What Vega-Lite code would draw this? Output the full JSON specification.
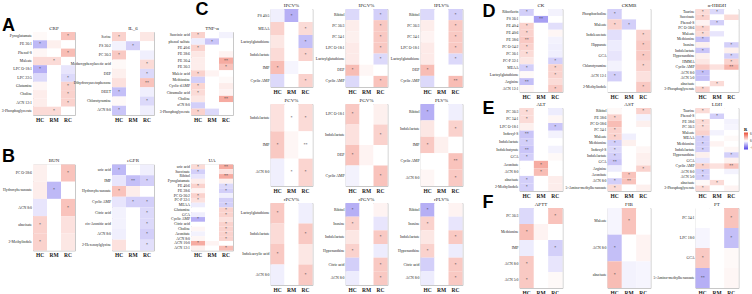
{
"$schema": "https://vega.github.io/schema/vega-lite/v6.json",
"autosize": {"type": "none"},
"padding": {"left": 33, "top": 9, "right": 719, "bottom": 285},
"background": "white",
"config": {
  "font": "Liberation Serif",
  "view": {"stroke": "#c8c8c8", "strokeWidth": 1},
  "axisX": {"labelAngle": 0, "labelFontSize": 5.5, "labelFontWeight": "bold", "ticks": false, "domain": false, "labelPadding": 2, "labelColor": "#222222", "grid": false},
  "axisY": {"labelFontSize": 3.8, "ticks": false, "domain": false, "labelPadding": 1.5, "labelColor": "#222222", "grid": false},
  "title": {"fontSize": 5, "fontWeight": "normal", "offset": 1.5, "color": "#222222"},
  "legend": {"orient": "none", "legendX": 711, "legendY": 118, "gradientLength": 17, "gradientThickness": 4, "labelFontSize": 3, "titleFontSize": 4.5, "labelOffset": 1, "titlePadding": 1, "padding": 0}
},
"data": {"values": [
{"p":"CRP","m":"Pyroglutamate","g":"HC","v":0.02,"s":""},{"p":"CRP","m":"Pyroglutamate","g":"RM","v":0,"s":""},{"p":"CRP","m":"Pyroglutamate","g":"RC","v":0.2,"s":"*"},
{"p":"CRP","m":"PE 36:1","g":"HC","v":-0.22,"s":"*"},{"p":"CRP","m":"PE 36:1","g":"RM","v":0.05,"s":""},{"p":"CRP","m":"PE 36:1","g":"RC","v":0,"s":""},
{"p":"CRP","m":"Phenol-S","g":"HC","v":0.03,"s":""},{"p":"CRP","m":"Phenol-S","g":"RM","v":0,"s":""},{"p":"CRP","m":"Phenol-S","g":"RC","v":0.22,"s":"*"},
{"p":"CRP","m":"Maleate","g":"HC","v":0.12,"s":""},{"p":"CRP","m":"Maleate","g":"RM","v":0.12,"s":"*"},{"p":"CRP","m":"Maleate","g":"RC","v":0,"s":""},
{"p":"CRP","m":"LPC O-18:1","g":"HC","v":-0.25,"s":"*"},{"p":"CRP","m":"LPC O-18:1","g":"RM","v":0,"s":""},{"p":"CRP","m":"LPC O-18:1","g":"RC","v":-0.08,"s":""},
{"p":"CRP","m":"LPC 22:5","g":"HC","v":-0.12,"s":""},{"p":"CRP","m":"LPC 22:5","g":"RM","v":0,"s":""},{"p":"CRP","m":"LPC 22:5","g":"RC","v":-0.12,"s":"*"},
{"p":"CRP","m":"Glutamine","g":"HC","v":0.03,"s":""},{"p":"CRP","m":"Glutamine","g":"RM","v":0,"s":""},{"p":"CRP","m":"Glutamine","g":"RC","v":0.15,"s":"*"},
{"p":"CRP","m":"Choline","g":"HC","v":0.06,"s":""},{"p":"CRP","m":"Choline","g":"RM","v":0,"s":""},{"p":"CRP","m":"Choline","g":"RC","v":0.15,"s":"*"},
{"p":"CRP","m":"ACN 12:1","g":"HC","v":0.06,"s":""},{"p":"CRP","m":"ACN 12:1","g":"RM","v":0,"s":""},{"p":"CRP","m":"ACN 12:1","g":"RC","v":0.15,"s":"*"},
{"p":"CRP","m":"3-Phosphoglycerate","g":"HC","v":0.12,"s":""},{"p":"CRP","m":"3-Phosphoglycerate","g":"RM","v":0.12,"s":"*"},{"p":"CRP","m":"3-Phosphoglycerate","g":"RC","v":0,"s":""},

{"p":"IL_6","m":"Serine","g":"HC","v":0.15,"s":"*"},{"p":"IL_6","m":"Serine","g":"RM","v":0,"s":""},{"p":"IL_6","m":"Serine","g":"RC","v":0.08,"s":""},
{"p":"IL_6","m":"PS 36:2","g":"HC","v":-0.04,"s":""},{"p":"IL_6","m":"PS 36:2","g":"RM","v":-0.15,"s":"*"},{"p":"IL_6","m":"PS 36:2","g":"RC","v":0,"s":""},
{"p":"IL_6","m":"PC 36:3","g":"HC","v":0.18,"s":"*"},{"p":"IL_6","m":"PC 36:3","g":"RM","v":0,"s":""},{"p":"IL_6","m":"PC 36:3","g":"RC","v":-0.05,"s":""},
{"p":"IL_6","m":"Methoxyphenylacetic acid","g":"HC","v":0.02,"s":""},{"p":"IL_6","m":"Methoxyphenylacetic acid","g":"RM","v":0,"s":""},{"p":"IL_6","m":"Methoxyphenylacetic acid","g":"RC","v":0.12,"s":"*"},
{"p":"IL_6","m":"DEP","g":"HC","v":0.05,"s":""},{"p":"IL_6","m":"DEP","g":"RM","v":0,"s":""},{"p":"IL_6","m":"DEP","g":"RC","v":-0.12,"s":"*"},
{"p":"IL_6","m":"Dihydroxyacetophenone","g":"HC","v":0.1,"s":""},{"p":"IL_6","m":"Dihydroxyacetophenone","g":"RM","v":0,"s":""},{"p":"IL_6","m":"Dihydroxyacetophenone","g":"RC","v":0.2,"s":"**"},
{"p":"IL_6","m":"DEET","g":"HC","v":-0.2,"s":"*"},{"p":"IL_6","m":"DEET","g":"RM","v":0,"s":""},{"p":"IL_6","m":"DEET","g":"RC","v":-0.05,"s":""},
{"p":"IL_6","m":"Chlorotyramine","g":"HC","v":0.02,"s":""},{"p":"IL_6","m":"Chlorotyramine","g":"RM","v":0,"s":""},{"p":"IL_6","m":"Chlorotyramine","g":"RC","v":-0.12,"s":"*"},
{"p":"IL_6","m":"ACN 8:0","g":"HC","v":-0.18,"s":"*"},{"p":"IL_6","m":"ACN 8:0","g":"RM","v":0,"s":""},{"p":"IL_6","m":"ACN 8:0","g":"RC","v":-0.05,"s":""},

{"p":"TNF","m":"Succinic acid","g":"HC","v":0.15,"s":"*"},{"p":"TNF","m":"Succinic acid","g":"RM","v":0,"s":""},{"p":"TNF","m":"Succinic acid","g":"RC","v":-0.04,"s":""},
{"p":"TNF","m":"phenol sulfate","g":"HC","v":-0.06,"s":""},{"p":"TNF","m":"phenol sulfate","g":"RM","v":-0.18,"s":"*"},{"p":"TNF","m":"phenol sulfate","g":"RC","v":0,"s":""},
{"p":"TNF","m":"PE 40:6","g":"HC","v":0.15,"s":"*"},{"p":"TNF","m":"PE 40:6","g":"RM","v":0,"s":""},{"p":"TNF","m":"PE 40:6","g":"RC","v":0,"s":""},
{"p":"TNF","m":"PE 38:6","g":"HC","v":0.08,"s":""},{"p":"TNF","m":"PE 38:6","g":"RM","v":0,"s":""},{"p":"TNF","m":"PE 38:6","g":"RC","v":0.04,"s":""},
{"p":"TNF","m":"PE 36:4","g":"HC","v":0.06,"s":""},{"p":"TNF","m":"PE 36:4","g":"RM","v":0,"s":""},{"p":"TNF","m":"PE 36:4","g":"RC","v":0.28,"s":"**"},
{"p":"TNF","m":"PE 36:3","g":"HC","v":0.06,"s":""},{"p":"TNF","m":"PE 36:3","g":"RM","v":0,"s":""},{"p":"TNF","m":"PE 36:3","g":"RC","v":0.2,"s":"*"},
{"p":"TNF","m":"Maleic acid","g":"HC","v":0.15,"s":"*"},{"p":"TNF","m":"Maleic acid","g":"RM","v":0.04,"s":""},{"p":"TNF","m":"Maleic acid","g":"RC","v":0,"s":""},
{"p":"TNF","m":"Methionine","g":"HC","v":-0.15,"s":""},{"p":"TNF","m":"Methionine","g":"RM","v":0,"s":""},{"p":"TNF","m":"Methionine","g":"RC","v":0.02,"s":""},
{"p":"TNF","m":"Cyclic dAMP","g":"HC","v":0.14,"s":"*"},{"p":"TNF","m":"Cyclic dAMP","g":"RM","v":0,"s":""},{"p":"TNF","m":"Cyclic dAMP","g":"RC","v":0.06,"s":""},
{"p":"TNF","m":"Citramalic acid","g":"HC","v":0.12,"s":"*"},{"p":"TNF","m":"Citramalic acid","g":"RM","v":0,"s":""},{"p":"TNF","m":"Citramalic acid","g":"RC","v":0.04,"s":""},
{"p":"TNF","m":"Choline","g":"HC","v":0.08,"s":""},{"p":"TNF","m":"Choline","g":"RM","v":0,"s":""},{"p":"TNF","m":"Choline","g":"RC","v":0.28,"s":"**"},
{"p":"TNF","m":"aCN 8:0","g":"HC","v":-0.15,"s":""},{"p":"TNF","m":"aCN 8:0","g":"RM","v":0,"s":""},{"p":"TNF","m":"aCN 8:0","g":"RC","v":0,"s":""},
{"p":"TNF","m":"3-Phosphoglycerate","g":"HC","v":0.15,"s":"*"},{"p":"TNF","m":"3-Phosphoglycerate","g":"RM","v":-0.12,"s":""},{"p":"TNF","m":"3-Phosphoglycerate","g":"RC","v":0,"s":""},

{"p":"BUN","m":"PC O-38:6","g":"HC","v":0.05,"s":""},{"p":"BUN","m":"PC O-38:6","g":"RM","v":0,"s":""},{"p":"BUN","m":"PC O-38:6","g":"RC","v":0.2,"s":"*"},
{"p":"BUN","m":"Hydroxyhexanoate","g":"HC","v":0.06,"s":""},{"p":"BUN","m":"Hydroxyhexanoate","g":"RM","v":-0.22,"s":"*"},{"p":"BUN","m":"Hydroxyhexanoate","g":"RC","v":0,"s":""},
{"p":"BUN","m":"ACN 8:0","g":"HC","v":-0.08,"s":""},{"p":"BUN","m":"ACN 8:0","g":"RM","v":0,"s":""},{"p":"BUN","m":"ACN 8:0","g":"RC","v":0.2,"s":"*"},
{"p":"BUN","m":"abscisate","g":"HC","v":0.15,"s":"*"},{"p":"BUN","m":"abscisate","g":"RM","v":0,"s":""},{"p":"BUN","m":"abscisate","g":"RC","v":0.1,"s":""},
{"p":"BUN","m":"2-Methylindole","g":"HC","v":0.15,"s":"*"},{"p":"BUN","m":"2-Methylindole","g":"RM","v":0,"s":""},{"p":"BUN","m":"2-Methylindole","g":"RC","v":0.08,"s":""},

{"p":"eGFR","m":"uric acid","g":"HC","v":-0.22,"s":"*"},{"p":"eGFR","m":"uric acid","g":"RM","v":0,"s":""},{"p":"eGFR","m":"uric acid","g":"RC","v":-0.05,"s":""},
{"p":"eGFR","m":"IMP","g":"HC","v":-0.08,"s":""},{"p":"eGFR","m":"IMP","g":"RM","v":-0.2,"s":"**"},{"p":"eGFR","m":"IMP","g":"RC","v":-0.15,"s":"*"},
{"p":"eGFR","m":"Hydroxyhexanoate","g":"HC","v":0.2,"s":"*"},{"p":"eGFR","m":"Hydroxyhexanoate","g":"RM","v":0.06,"s":""},{"p":"eGFR","m":"Hydroxyhexanoate","g":"RC","v":0,"s":""},
{"p":"eGFR","m":"Cyclic AMP","g":"HC","v":-0.08,"s":""},{"p":"eGFR","m":"Cyclic AMP","g":"RM","v":-0.15,"s":"*"},{"p":"eGFR","m":"Cyclic AMP","g":"RC","v":-0.15,"s":"*"},
{"p":"eGFR","m":"Citric acid","g":"HC","v":-0.04,"s":""},{"p":"eGFR","m":"Citric acid","g":"RM","v":0,"s":""},{"p":"eGFR","m":"Citric acid","g":"RC","v":-0.12,"s":"*"},
{"p":"eGFR","m":"cis-Aconitic acid","g":"HC","v":-0.04,"s":""},{"p":"eGFR","m":"cis-Aconitic acid","g":"RM","v":0,"s":""},{"p":"eGFR","m":"cis-Aconitic acid","g":"RC","v":-0.12,"s":"*"},
{"p":"eGFR","m":"ACN 8:0","g":"HC","v":-0.05,"s":""},{"p":"eGFR","m":"ACN 8:0","g":"RM","v":0,"s":""},{"p":"eGFR","m":"ACN 8:0","g":"RC","v":-0.15,"s":"*"},
{"p":"eGFR","m":"2-Hexenoylglycine","g":"HC","v":0.1,"s":""},{"p":"eGFR","m":"2-Hexenoylglycine","g":"RM","v":0,"s":""},{"p":"eGFR","m":"2-Hexenoylglycine","g":"RC","v":-0.1,"s":"*"},

{"p":"UA","m":"uric acid","g":"HC","v":0.12,"s":"*"},{"p":"UA","m":"uric acid","g":"RM","v":0,"s":""},{"p":"UA","m":"uric acid","g":"RC","v":0.28,"s":"**"},
{"p":"UA","m":"Succinate","g":"HC","v":-0.15,"s":"*"},{"p":"UA","m":"Succinate","g":"RM","v":0,"s":""},{"p":"UA","m":"Succinate","g":"RC","v":0.1,"s":""},
{"p":"UA","m":"Ribitol","g":"HC","v":-0.08,"s":""},{"p":"UA","m":"Ribitol","g":"RM","v":0,"s":""},{"p":"UA","m":"Ribitol","g":"RC","v":0.28,"s":"**"},
{"p":"UA","m":"Pyroglutamate","g":"HC","v":0.06,"s":""},{"p":"UA","m":"Pyroglutamate","g":"RM","v":0,"s":""},{"p":"UA","m":"Pyroglutamate","g":"RC","v":0.05,"s":""},
{"p":"UA","m":"PE 40:6","g":"HC","v":0.15,"s":"*"},{"p":"UA","m":"PE 40:6","g":"RM","v":0,"s":""},{"p":"UA","m":"PE 40:6","g":"RC","v":-0.12,"s":"*"},
{"p":"UA","m":"PE 38:6","g":"HC","v":0.04,"s":""},{"p":"UA","m":"PE 38:6","g":"RM","v":0,"s":""},{"p":"UA","m":"PE 38:6","g":"RC","v":-0.15,"s":"*"},
{"p":"UA","m":"PC O-36:2","g":"HC","v":0.15,"s":"*"},{"p":"UA","m":"PC O-36:2","g":"RM","v":0,"s":""},{"p":"UA","m":"PC O-36:2","g":"RC","v":-0.05,"s":""},
{"p":"UA","m":"PC-P 32:1","g":"HC","v":0.1,"s":"*"},{"p":"UA","m":"PC-P 32:1","g":"RM","v":0,"s":""},{"p":"UA","m":"PC-P 32:1","g":"RC","v":-0.15,"s":""},
{"p":"UA","m":"MEAA","g":"HC","v":-0.06,"s":""},{"p":"UA","m":"MEAA","g":"RM","v":0,"s":""},{"p":"UA","m":"MEAA","g":"RC","v":-0.15,"s":"*"},
{"p":"UA","m":"Glutamine","g":"HC","v":0,"s":""},{"p":"UA","m":"Glutamine","g":"RM","v":0,"s":""},{"p":"UA","m":"Glutamine","g":"RC","v":0.15,"s":"*"},
{"p":"UA","m":"GCA","g":"HC","v":-0.05,"s":""},{"p":"UA","m":"GCA","g":"RM","v":0,"s":""},{"p":"UA","m":"GCA","g":"RC","v":0.15,"s":"*"},
{"p":"UA","m":"Cyclic AMP","g":"HC","v":-0.25,"s":"*"},{"p":"UA","m":"Cyclic AMP","g":"RM","v":0,"s":""},{"p":"UA","m":"Cyclic AMP","g":"RC","v":0.1,"s":""},
{"p":"UA","m":"Citric acid","g":"HC","v":0,"s":""},{"p":"UA","m":"Citric acid","g":"RM","v":0,"s":""},{"p":"UA","m":"Citric acid","g":"RC","v":0.15,"s":"*"},
{"p":"UA","m":"Choline","g":"HC","v":0.03,"s":""},{"p":"UA","m":"Choline","g":"RM","v":0,"s":""},{"p":"UA","m":"Choline","g":"RC","v":0.15,"s":"*"},
{"p":"UA","m":"Aconitate","g":"HC","v":-0.04,"s":""},{"p":"UA","m":"Aconitate","g":"RM","v":0,"s":""},{"p":"UA","m":"Aconitate","g":"RC","v":0.15,"s":"*"},
{"p":"UA","m":"ACN 8:0","g":"HC","v":0.03,"s":""},{"p":"UA","m":"ACN 8:0","g":"RM","v":0,"s":""},{"p":"UA","m":"ACN 8:0","g":"RC","v":0.15,"s":"*"},
{"p":"UA","m":"ACN 10:0","g":"HC","v":0.28,"s":"*"},{"p":"UA","m":"ACN 10:0","g":"RM","v":0.04,"s":""},{"p":"UA","m":"ACN 10:0","g":"RC","v":0,"s":""},
{"p":"UA","m":"ACN 12:1","g":"HC","v":0.05,"s":""},{"p":"UA","m":"ACN 12:1","g":"RM","v":0,"s":""},{"p":"UA","m":"ACN 12:1","g":"RC","v":0.22,"s":"*"},

{"p":"IPCV","m":"PS 40:5","g":"HC","v":-0.05,"s":""},{"p":"IPCV","m":"PS 40:5","g":"RM","v":-0.25,"s":"*"},{"p":"IPCV","m":"PS 40:5","g":"RC","v":0,"s":""},
{"p":"IPCV","m":"MEAA","g":"HC","v":0.15,"s":""},{"p":"IPCV","m":"MEAA","g":"RM","v":0,"s":""},{"p":"IPCV","m":"MEAA","g":"RC","v":0.12,"s":"*"},
{"p":"IPCV","m":"Lactoylglutathione","g":"HC","v":0.08,"s":""},{"p":"IPCV","m":"Lactoylglutathione","g":"RM","v":0,"s":""},{"p":"IPCV","m":"Lactoylglutathione","g":"RC","v":-0.2,"s":"*"},
{"p":"IPCV","m":"Indolelactate","g":"HC","v":0.12,"s":""},{"p":"IPCV","m":"Indolelactate","g":"RM","v":0,"s":""},{"p":"IPCV","m":"Indolelactate","g":"RC","v":0.15,"s":"*"},
{"p":"IPCV","m":"IMP","g":"HC","v":0.22,"s":"*"},{"p":"IPCV","m":"IMP","g":"RM","v":-0.03,"s":""},{"p":"IPCV","m":"IMP","g":"RC","v":0,"s":""},
{"p":"IPCV","m":"Cyclic AMP","g":"HC","v":-0.12,"s":""},{"p":"IPCV","m":"Cyclic AMP","g":"RM","v":0,"s":""},{"p":"IPCV","m":"Cyclic AMP","g":"RC","v":0.15,"s":"*"},

{"p":"IPGV","m":"Ribitol","g":"HC","v":-0.12,"s":""},{"p":"IPGV","m":"Ribitol","g":"RM","v":0,"s":""},{"p":"IPGV","m":"Ribitol","g":"RC","v":-0.15,"s":"*"},
{"p":"IPGV","m":"PC 36:3","g":"HC","v":0.06,"s":""},{"p":"IPGV","m":"PC 36:3","g":"RM","v":0,"s":""},{"p":"IPGV","m":"PC 36:3","g":"RC","v":0.18,"s":"*"},
{"p":"IPGV","m":"PC 34:1","g":"HC","v":0.05,"s":""},{"p":"IPGV","m":"PC 34:1","g":"RM","v":0,"s":""},{"p":"IPGV","m":"PC 34:1","g":"RC","v":0.18,"s":"*"},
{"p":"IPGV","m":"LPC O-18:1","g":"HC","v":0.07,"s":""},{"p":"IPGV","m":"LPC O-18:1","g":"RM","v":0,"s":""},{"p":"IPGV","m":"LPC O-18:1","g":"RC","v":0.18,"s":"*"},
{"p":"IPGV","m":"Lactoylglutathione","g":"HC","v":0.07,"s":""},{"p":"IPGV","m":"Lactoylglutathione","g":"RM","v":0,"s":""},{"p":"IPGV","m":"Lactoylglutathione","g":"RC","v":-0.12,"s":"*"},
{"p":"IPGV","m":"DEP","g":"HC","v":0.22,"s":"*"},{"p":"IPGV","m":"DEP","g":"RM","v":0.03,"s":""},{"p":"IPGV","m":"DEP","g":"RC","v":0,"s":""},
{"p":"IPGV","m":"Cyclic AMP","g":"HC","v":-0.12,"s":""},{"p":"IPGV","m":"Cyclic AMP","g":"RM","v":0,"s":""},{"p":"IPGV","m":"Cyclic AMP","g":"RC","v":0.2,"s":"*"},

{"p":"IPLV","m":"Ribitol","g":"HC","v":-0.12,"s":""},{"p":"IPLV","m":"Ribitol","g":"RM","v":0,"s":""},{"p":"IPLV","m":"Ribitol","g":"RC","v":-0.15,"s":"*"},
{"p":"IPLV","m":"PC 36:3","g":"HC","v":0.06,"s":""},{"p":"IPLV","m":"PC 36:3","g":"RM","v":0,"s":""},{"p":"IPLV","m":"PC 36:3","g":"RC","v":0.18,"s":"*"},
{"p":"IPLV","m":"PC 34:1","g":"HC","v":0.04,"s":""},{"p":"IPLV","m":"PC 34:1","g":"RM","v":0,"s":""},{"p":"IPLV","m":"PC 34:1","g":"RC","v":0.18,"s":"*"},
{"p":"IPLV","m":"LPC O-18:1","g":"HC","v":0.07,"s":""},{"p":"IPLV","m":"LPC O-18:1","g":"RM","v":0,"s":""},{"p":"IPLV","m":"LPC O-18:1","g":"RC","v":0.18,"s":"*"},
{"p":"IPLV","m":"Lactoylglutathione","g":"HC","v":0.07,"s":""},{"p":"IPLV","m":"Lactoylglutathione","g":"RM","v":0,"s":""},{"p":"IPLV","m":"Lactoylglutathione","g":"RC","v":-0.12,"s":"*"},
{"p":"IPLV","m":"DEP","g":"HC","v":0.22,"s":"*"},{"p":"IPLV","m":"DEP","g":"RM","v":0,"s":""},{"p":"IPLV","m":"DEP","g":"RC","v":0,"s":""},
{"p":"IPLV","m":"Cyclic AMP","g":"HC","v":-0.12,"s":""},{"p":"IPLV","m":"Cyclic AMP","g":"RM","v":0,"s":""},{"p":"IPLV","m":"Cyclic AMP","g":"RC","v":0.22,"s":"**"},

{"p":"PCV","m":"Indolelactate","g":"HC","v":0.1,"s":""},{"p":"PCV","m":"Indolelactate","g":"RM","v":0,"s":"*"},{"p":"PCV","m":"Indolelactate","g":"RC","v":0.12,"s":"*"},
{"p":"PCV","m":"IMP","g":"HC","v":0.18,"s":"*"},{"p":"PCV","m":"IMP","g":"RM","v":0.03,"s":""},{"p":"PCV","m":"IMP","g":"RC","v":0,"s":"**"},
{"p":"PCV","m":"ACN 8:0","g":"HC","v":-0.05,"s":""},{"p":"PCV","m":"ACN 8:0","g":"RM","v":0,"s":"*"},{"p":"PCV","m":"ACN 8:0","g":"RC","v":0.14,"s":"*"},

{"p":"PGV","m":"LPC O-18:1","g":"HC","v":0.18,"s":"*"},{"p":"PGV","m":"LPC O-18:1","g":"RM","v":0,"s":""},{"p":"PGV","m":"LPC O-18:1","g":"RC","v":0.05,"s":""},
{"p":"PGV","m":"Indolelactate","g":"HC","v":0.1,"s":""},{"p":"PGV","m":"Indolelactate","g":"RM","v":0,"s":""},{"p":"PGV","m":"Indolelactate","g":"RC","v":0.15,"s":"*"},
{"p":"PGV","m":"DEP","g":"HC","v":0.2,"s":"*"},{"p":"PGV","m":"DEP","g":"RM","v":0.04,"s":""},{"p":"PGV","m":"DEP","g":"RC","v":0,"s":""},
{"p":"PGV","m":"Cyclic AMP","g":"HC","v":-0.04,"s":""},{"p":"PGV","m":"Cyclic AMP","g":"RM","v":0,"s":""},{"p":"PGV","m":"Cyclic AMP","g":"RC","v":0.2,"s":"*"},

{"p":"PLV","m":"Ribitol","g":"HC","v":-0.25,"s":"*"},{"p":"PLV","m":"Ribitol","g":"RM","v":0,"s":""},{"p":"PLV","m":"Ribitol","g":"RC","v":-0.05,"s":""},
{"p":"PLV","m":"Indolelactate","g":"HC","v":0.08,"s":""},{"p":"PLV","m":"Indolelactate","g":"RM","v":0,"s":""},{"p":"PLV","m":"Indolelactate","g":"RC","v":0.15,"s":"*"},
{"p":"PLV","m":"IMP","g":"HC","v":0.18,"s":"*"},{"p":"PLV","m":"IMP","g":"RM","v":0.05,"s":""},{"p":"PLV","m":"IMP","g":"RC","v":0,"s":""},
{"p":"PLV","m":"Cyclic AMP","g":"HC","v":0,"s":""},{"p":"PLV","m":"Cyclic AMP","g":"RM","v":0,"s":""},{"p":"PLV","m":"Cyclic AMP","g":"RC","v":0.2,"s":"**"},
{"p":"PLV","m":"ACN 8:0","g":"HC","v":0.03,"s":""},{"p":"PLV","m":"ACN 8:0","g":"RM","v":0,"s":""},{"p":"PLV","m":"ACN 8:0","g":"RC","v":0.18,"s":"*"},

{"p":"rPCV","m":"Lactoylglutathione","g":"HC","v":0.18,"s":"*"},{"p":"rPCV","m":"Lactoylglutathione","g":"RM","v":0,"s":""},{"p":"rPCV","m":"Lactoylglutathione","g":"RC","v":-0.05,"s":""},
{"p":"rPCV","m":"Indolelactate","g":"HC","v":0.12,"s":""},{"p":"rPCV","m":"Indolelactate","g":"RM","v":0,"s":""},{"p":"rPCV","m":"Indolelactate","g":"RC","v":0.18,"s":"*"},
{"p":"rPCV","m":"Indoleacrylic acid","g":"HC","v":0.18,"s":"*"},{"p":"rPCV","m":"Indoleacrylic acid","g":"RM","v":0,"s":""},{"p":"rPCV","m":"Indoleacrylic acid","g":"RC","v":0.08,"s":""},
{"p":"rPCV","m":"ACN 8:0","g":"HC","v":-0.05,"s":""},{"p":"rPCV","m":"ACN 8:0","g":"RM","v":0,"s":""},{"p":"rPCV","m":"ACN 8:0","g":"RC","v":0.18,"s":"*"},

{"p":"rPGV","m":"Ribitol","g":"HC","v":-0.25,"s":"*"},{"p":"rPGV","m":"Ribitol","g":"RM","v":0,"s":""},{"p":"rPGV","m":"Ribitol","g":"RC","v":0.04,"s":""},
{"p":"rPGV","m":"Inosine","g":"HC","v":0.15,"s":"*"},{"p":"rPGV","m":"Inosine","g":"RM","v":0,"s":""},{"p":"rPGV","m":"Inosine","g":"RC","v":-0.08,"s":""},
{"p":"rPGV","m":"Indolelactate","g":"HC","v":0.08,"s":""},{"p":"rPGV","m":"Indolelactate","g":"RM","v":0,"s":""},{"p":"rPGV","m":"Indolelactate","g":"RC","v":0.18,"s":"*"},
{"p":"rPGV","m":"Hypoxanthine","g":"HC","v":0.15,"s":"*"},{"p":"rPGV","m":"Hypoxanthine","g":"RM","v":0,"s":""},{"p":"rPGV","m":"Hypoxanthine","g":"RC","v":-0.06,"s":""},
{"p":"rPGV","m":"Citric acid","g":"HC","v":-0.15,"s":""},{"p":"rPGV","m":"Citric acid","g":"RM","v":0,"s":""},{"p":"rPGV","m":"Citric acid","g":"RC","v":0.18,"s":"*"},
{"p":"rPGV","m":"ACN 8:0","g":"HC","v":-0.06,"s":""},{"p":"rPGV","m":"ACN 8:0","g":"RM","v":0,"s":""},{"p":"rPGV","m":"ACN 8:0","g":"RC","v":0.18,"s":"*"},

{"p":"rPLV","m":"Ribitol","g":"HC","v":-0.25,"s":"*"},{"p":"rPLV","m":"Ribitol","g":"RM","v":0,"s":""},{"p":"rPLV","m":"Ribitol","g":"RC","v":0.04,"s":""},
{"p":"rPLV","m":"Inosine","g":"HC","v":0.15,"s":"*"},{"p":"rPLV","m":"Inosine","g":"RM","v":0,"s":""},{"p":"rPLV","m":"Inosine","g":"RC","v":-0.08,"s":""},
{"p":"rPLV","m":"Indolelactate","g":"HC","v":0.08,"s":""},{"p":"rPLV","m":"Indolelactate","g":"RM","v":0,"s":""},{"p":"rPLV","m":"Indolelactate","g":"RC","v":0.18,"s":"*"},
{"p":"rPLV","m":"Hypoxanthine","g":"HC","v":0.15,"s":"*"},{"p":"rPLV","m":"Hypoxanthine","g":"RM","v":0,"s":""},{"p":"rPLV","m":"Hypoxanthine","g":"RC","v":-0.06,"s":""},
{"p":"rPLV","m":"Citric acid","g":"HC","v":-0.15,"s":""},{"p":"rPLV","m":"Citric acid","g":"RM","v":0,"s":""},{"p":"rPLV","m":"Citric acid","g":"RC","v":0.18,"s":"*"},
{"p":"rPLV","m":"ACN 8:0","g":"HC","v":-0.06,"s":""},{"p":"rPLV","m":"ACN 8:0","g":"RM","v":0,"s":""},{"p":"rPLV","m":"ACN 8:0","g":"RC","v":0.18,"s":"*"},

{"p":"CK","m":"Riboflavin","g":"HC","v":-0.15,"s":"*"},{"p":"CK","m":"Riboflavin","g":"RM","v":0,"s":""},{"p":"CK","m":"Riboflavin","g":"RC","v":-0.04,"s":""},
{"p":"CK","m":"PS 36:1","g":"HC","v":0,"s":""},{"p":"CK","m":"PS 36:1","g":"RM","v":-0.3,"s":"**"},{"p":"CK","m":"PS 36:1","g":"RC","v":0,"s":""},
{"p":"CK","m":"PE 40:4","g":"HC","v":0.15,"s":"*"},{"p":"CK","m":"PE 40:4","g":"RM","v":0,"s":""},{"p":"CK","m":"PE 40:4","g":"RC","v":-0.1,"s":""},
{"p":"CK","m":"PE 40:6","g":"HC","v":0.15,"s":"*"},{"p":"CK","m":"PE 40:6","g":"RM","v":0,"s":""},{"p":"CK","m":"PE 40:6","g":"RC","v":0.03,"s":""},
{"p":"CK","m":"PE 38:6","g":"HC","v":0.18,"s":"**"},{"p":"CK","m":"PE 38:6","g":"RM","v":0,"s":""},{"p":"CK","m":"PE 38:6","g":"RC","v":-0.04,"s":""},
{"p":"CK","m":"PC O-34:2","g":"HC","v":0.15,"s":"*"},{"p":"CK","m":"PC O-34:2","g":"RM","v":0,"s":""},{"p":"CK","m":"PC O-34:2","g":"RC","v":-0.05,"s":""},
{"p":"CK","m":"PC 36:1","g":"HC","v":0.12,"s":"*"},{"p":"CK","m":"PC 36:1","g":"RM","v":0,"s":""},{"p":"CK","m":"PC 36:1","g":"RC","v":-0.05,"s":""},
{"p":"CK","m":"PC-P 32:1","g":"HC","v":0.08,"s":""},{"p":"CK","m":"PC-P 32:1","g":"RM","v":0,"s":""},{"p":"CK","m":"PC-P 32:1","g":"RC","v":-0.15,"s":"*"},
{"p":"CK","m":"MEAA","g":"HC","v":-0.15,"s":"*"},{"p":"CK","m":"MEAA","g":"RM","v":0,"s":""},{"p":"CK","m":"MEAA","g":"RC","v":0.15,"s":"*"},
{"p":"CK","m":"Lactoylglutathione","g":"HC","v":0.02,"s":""},{"p":"CK","m":"Lactoylglutathione","g":"RM","v":0,"s":""},{"p":"CK","m":"Lactoylglutathione","g":"RC","v":0.15,"s":"*"},
{"p":"CK","m":"Arginine","g":"HC","v":-0.2,"s":"**"},{"p":"CK","m":"Arginine","g":"RM","v":0,"s":""},{"p":"CK","m":"Arginine","g":"RC","v":0.12,"s":""},
{"p":"CK","m":"ACN 12:1","g":"HC","v":0.03,"s":""},{"p":"CK","m":"ACN 12:1","g":"RM","v":0,"s":""},{"p":"CK","m":"ACN 12:1","g":"RC","v":0.18,"s":"*"},

{"p":"CKMB","m":"Phosphocholine","g":"HC","v":-0.15,"s":"*"},{"p":"CKMB","m":"Phosphocholine","g":"RM","v":0,"s":""},{"p":"CKMB","m":"Phosphocholine","g":"RC","v":0,"s":""},
{"p":"CKMB","m":"Maleate","g":"HC","v":0.15,"s":"*"},{"p":"CKMB","m":"Maleate","g":"RM","v":-0.15,"s":"*"},{"p":"CKMB","m":"Maleate","g":"RC","v":0,"s":""},
{"p":"CKMB","m":"Indoleacetate","g":"HC","v":-0.1,"s":""},{"p":"CKMB","m":"Indoleacetate","g":"RM","v":0,"s":""},{"p":"CKMB","m":"Indoleacetate","g":"RC","v":0.15,"s":"*"},
{"p":"CKMB","m":"Hippurate","g":"HC","v":-0.06,"s":""},{"p":"CKMB","m":"Hippurate","g":"RM","v":0,"s":""},{"p":"CKMB","m":"Hippurate","g":"RC","v":0.18,"s":"*"},
{"p":"CKMB","m":"GCA","g":"HC","v":-0.08,"s":""},{"p":"CKMB","m":"GCA","g":"RM","v":0,"s":""},{"p":"CKMB","m":"GCA","g":"RC","v":0.18,"s":"*"},
{"p":"CKMB","m":"Chlorotyramine","g":"HC","v":-0.04,"s":""},{"p":"CKMB","m":"Chlorotyramine","g":"RM","v":0,"s":""},{"p":"CKMB","m":"Chlorotyramine","g":"RC","v":0.15,"s":"*"},
{"p":"CKMB","m":"ACN 12:1","g":"HC","v":-0.15,"s":"*"},{"p":"CKMB","m":"ACN 12:1","g":"RM","v":0,"s":""},{"p":"CKMB","m":"ACN 12:1","g":"RC","v":0.1,"s":""},
{"p":"CKMB","m":"2-Methylindole","g":"HC","v":0,"s":""},{"p":"CKMB","m":"2-Methylindole","g":"RM","v":0,"s":""},{"p":"CKMB","m":"2-Methylindole","g":"RC","v":0.18,"s":"*"},

{"p":"HBDH","m":"Taurine","g":"HC","v":0.12,"s":"*"},{"p":"HBDH","m":"Taurine","g":"RM","v":-0.12,"s":"*"},{"p":"HBDH","m":"Taurine","g":"RC","v":0,"s":""},
{"p":"HBDH","m":"Succinate","g":"HC","v":0.15,"s":"*"},{"p":"HBDH","m":"Succinate","g":"RM","v":0,"s":""},{"p":"HBDH","m":"Succinate","g":"RC","v":0.12,"s":""},
{"p":"HBDH","m":"Phenol-S","g":"HC","v":0.04,"s":""},{"p":"HBDH","m":"Phenol-S","g":"RM","v":-0.15,"s":"*"},{"p":"HBDH","m":"Phenol-S","g":"RC","v":0,"s":""},
{"p":"HBDH","m":"PC O-38:6","g":"HC","v":0.15,"s":"*"},{"p":"HBDH","m":"PC O-38:6","g":"RM","v":0,"s":""},{"p":"HBDH","m":"PC O-38:6","g":"RC","v":0,"s":""},
{"p":"HBDH","m":"Maleate","g":"HC","v":0.12,"s":"*"},{"p":"HBDH","m":"Maleate","g":"RM","v":-0.08,"s":""},{"p":"HBDH","m":"Maleate","g":"RC","v":0,"s":""},
{"p":"HBDH","m":"Methionine","g":"HC","v":-0.2,"s":"*"},{"p":"HBDH","m":"Methionine","g":"RM","v":0,"s":""},{"p":"HBDH","m":"Methionine","g":"RC","v":0,"s":""},
{"p":"HBDH","m":"Inosine","g":"HC","v":0.05,"s":""},{"p":"HBDH","m":"Inosine","g":"RM","v":0,"s":""},{"p":"HBDH","m":"Inosine","g":"RC","v":-0.15,"s":"*"},
{"p":"HBDH","m":"Indolelactate","g":"HC","v":-0.18,"s":"*"},{"p":"HBDH","m":"Indolelactate","g":"RM","v":0,"s":""},{"p":"HBDH","m":"Indolelactate","g":"RC","v":0.05,"s":""},
{"p":"HBDH","m":"Hypoxanthine","g":"HC","v":0.05,"s":""},{"p":"HBDH","m":"Hypoxanthine","g":"RM","v":0,"s":""},{"p":"HBDH","m":"Hypoxanthine","g":"RC","v":-0.15,"s":"*"},
{"p":"HBDH","m":"HMMA","g":"HC","v":0.08,"s":""},{"p":"HBDH","m":"HMMA","g":"RM","v":0,"s":""},{"p":"HBDH","m":"HMMA","g":"RC","v":0.15,"s":"*"},
{"p":"HBDH","m":"Cyclic AMP","g":"HC","v":0.18,"s":""},{"p":"HBDH","m":"Cyclic AMP","g":"RM","v":0.1,"s":""},{"p":"HBDH","m":"Cyclic AMP","g":"RC","v":0.25,"s":"**"},
{"p":"HBDH","m":"ACN 8:0","g":"HC","v":-0.2,"s":"*"},{"p":"HBDH","m":"ACN 8:0","g":"RM","v":0,"s":""},{"p":"HBDH","m":"ACN 8:0","g":"RC","v":0,"s":""},
{"p":"HBDH","m":"ACN 5:0","g":"HC","v":-0.2,"s":""},{"p":"HBDH","m":"ACN 5:0","g":"RM","v":0,"s":""},{"p":"HBDH","m":"ACN 5:0","g":"RC","v":0,"s":""},
{"p":"HBDH","m":"abscisate","g":"HC","v":0,"s":""},{"p":"HBDH","m":"abscisate","g":"RM","v":0.12,"s":"*"},{"p":"HBDH","m":"abscisate","g":"RC","v":0,"s":""},
{"p":"HBDH","m":"3-Phosphoglycerate","g":"HC","v":0.15,"s":"*"},{"p":"HBDH","m":"3-Phosphoglycerate","g":"RM","v":0,"s":""},{"p":"HBDH","m":"3-Phosphoglycerate","g":"RC","v":0,"s":""},

{"p":"ALT","m":"PC 36:3","g":"HC","v":0.12,"s":"*"},{"p":"ALT","m":"PC 36:3","g":"RM","v":0,"s":""},{"p":"ALT","m":"PC 36:3","g":"RC","v":-0.06,"s":""},
{"p":"ALT","m":"PC 34:1","g":"HC","v":0.12,"s":"*"},{"p":"ALT","m":"PC 34:1","g":"RM","v":0,"s":""},{"p":"ALT","m":"PC 34:1","g":"RC","v":0.03,"s":""},
{"p":"ALT","m":"LPC O-18:1","g":"HC","v":0.05,"s":""},{"p":"ALT","m":"LPC O-18:1","g":"RM","v":0,"s":""},{"p":"ALT","m":"LPC O-18:1","g":"RC","v":-0.18,"s":"*"},
{"p":"ALT","m":"Indoxyl-S","g":"HC","v":-0.18,"s":"**"},{"p":"ALT","m":"Indoxyl-S","g":"RM","v":0,"s":""},{"p":"ALT","m":"Indoxyl-S","g":"RC","v":-0.04,"s":""},
{"p":"ALT","m":"Indolelactate","g":"HC","v":-0.15,"s":"*"},{"p":"ALT","m":"Indolelactate","g":"RM","v":0,"s":""},{"p":"ALT","m":"Indolelactate","g":"RC","v":0,"s":""},
{"p":"ALT","m":"Indolebutyrate","g":"HC","v":-0.18,"s":"**"},{"p":"ALT","m":"Indolebutyrate","g":"RM","v":0,"s":""},{"p":"ALT","m":"Indolebutyrate","g":"RC","v":-0.04,"s":""},
{"p":"ALT","m":"GCA","g":"HC","v":-0.15,"s":"*"},{"p":"ALT","m":"GCA","g":"RM","v":0,"s":""},{"p":"ALT","m":"GCA","g":"RC","v":0.02,"s":""},
{"p":"ALT","m":"Aconitate","g":"HC","v":0,"s":""},{"p":"ALT","m":"Aconitate","g":"RM","v":0.28,"s":"*"},{"p":"ALT","m":"Aconitate","g":"RC","v":0,"s":""},
{"p":"ALT","m":"ACN 8:0","g":"HC","v":0,"s":""},{"p":"ALT","m":"ACN 8:0","g":"RM","v":0.22,"s":"*"},{"p":"ALT","m":"ACN 8:0","g":"RC","v":0,"s":""},
{"p":"ALT","m":"abscisate","g":"HC","v":-0.15,"s":"*"},{"p":"ALT","m":"abscisate","g":"RM","v":0,"s":""},{"p":"ALT","m":"abscisate","g":"RC","v":0.06,"s":""},
{"p":"ALT","m":"2-Methylindole","g":"HC","v":-0.15,"s":"*"},{"p":"ALT","m":"2-Methylindole","g":"RM","v":0,"s":""},{"p":"ALT","m":"2-Methylindole","g":"RC","v":0.06,"s":""},

{"p":"AST","m":"Ribitol","g":"HC","v":0.02,"s":""},{"p":"AST","m":"Ribitol","g":"RM","v":0,"s":""},{"p":"AST","m":"Ribitol","g":"RC","v":0.15,"s":"*"},
{"p":"AST","m":"PE 38:6","g":"HC","v":0.15,"s":"*"},{"p":"AST","m":"PE 38:6","g":"RM","v":0,"s":""},{"p":"AST","m":"PE 38:6","g":"RC","v":-0.04,"s":""},
{"p":"AST","m":"PC O-38:6","g":"HC","v":0.22,"s":""},{"p":"AST","m":"PC O-38:6","g":"RM","v":0,"s":""},{"p":"AST","m":"PC O-38:6","g":"RC","v":0.05,"s":""},
{"p":"AST","m":"PC 34:1","g":"HC","v":0.15,"s":"*"},{"p":"AST","m":"PC 34:1","g":"RM","v":0,"s":""},{"p":"AST","m":"PC 34:1","g":"RC","v":0,"s":""},
{"p":"AST","m":"Maleate","g":"HC","v":0.15,"s":"*"},{"p":"AST","m":"Maleate","g":"RM","v":-0.05,"s":""},{"p":"AST","m":"Maleate","g":"RC","v":0,"s":""},
{"p":"AST","m":"Methionine","g":"HC","v":-0.15,"s":"*"},{"p":"AST","m":"Methionine","g":"RM","v":0.05,"s":""},{"p":"AST","m":"Methionine","g":"RC","v":0,"s":""},
{"p":"AST","m":"Indoxyl-S","g":"HC","v":-0.12,"s":"*"},{"p":"AST","m":"Indoxyl-S","g":"RM","v":0,"s":""},{"p":"AST","m":"Indoxyl-S","g":"RC","v":0.03,"s":""},
{"p":"AST","m":"Indolelactate","g":"HC","v":-0.15,"s":"*"},{"p":"AST","m":"Indolelactate","g":"RM","v":0,"s":""},{"p":"AST","m":"Indolelactate","g":"RC","v":0.05,"s":""},
{"p":"AST","m":"GCA","g":"HC","v":-0.18,"s":"**"},{"p":"AST","m":"GCA","g":"RM","v":0,"s":""},{"p":"AST","m":"GCA","g":"RC","v":0.05,"s":""},
{"p":"AST","m":"Arginine","g":"HC","v":-0.06,"s":""},{"p":"AST","m":"Arginine","g":"RM","v":0,"s":""},{"p":"AST","m":"Arginine","g":"RC","v":0.15,"s":"*"},
{"p":"AST","m":"Aconitate","g":"HC","v":0,"s":""},{"p":"AST","m":"Aconitate","g":"RM","v":0.2,"s":"*"},{"p":"AST","m":"Aconitate","g":"RC","v":0,"s":""},
{"p":"AST","m":"ACN 8:0","g":"HC","v":-0.15,"s":"*"},{"p":"AST","m":"ACN 8:0","g":"RM","v":0.2,"s":"**"},{"p":"AST","m":"ACN 8:0","g":"RC","v":0,"s":""},
{"p":"AST","m":"5-Amino-methylhexanoate","g":"HC","v":0.12,"s":"*"},{"p":"AST","m":"5-Amino-methylhexanoate","g":"RM","v":0,"s":""},{"p":"AST","m":"5-Amino-methylhexanoate","g":"RC","v":0.05,"s":""},

{"p":"LDH","m":"Taurine","g":"HC","v":0.12,"s":"*"},{"p":"LDH","m":"Taurine","g":"RM","v":0,"s":""},{"p":"LDH","m":"Taurine","g":"RC","v":0,"s":""},
{"p":"LDH","m":"Phenol-S","g":"HC","v":0,"s":""},{"p":"LDH","m":"Phenol-S","g":"RM","v":-0.15,"s":"*"},{"p":"LDH","m":"Phenol-S","g":"RC","v":0,"s":""},
{"p":"LDH","m":"PE 38:6","g":"HC","v":0.12,"s":"*"},{"p":"LDH","m":"PE 38:6","g":"RM","v":0,"s":""},{"p":"LDH","m":"PE 38:6","g":"RC","v":-0.04,"s":""},
{"p":"LDH","m":"PC 36:3","g":"HC","v":0.12,"s":"*"},{"p":"LDH","m":"PC 36:3","g":"RM","v":0,"s":""},{"p":"LDH","m":"PC 36:3","g":"RC","v":-0.03,"s":""},
{"p":"LDH","m":"Maleate","g":"HC","v":0.15,"s":""},{"p":"LDH","m":"Maleate","g":"RM","v":-0.04,"s":""},{"p":"LDH","m":"Maleate","g":"RC","v":0,"s":""},
{"p":"LDH","m":"MEAA","g":"HC","v":-0.15,"s":"*"},{"p":"LDH","m":"MEAA","g":"RM","v":0,"s":""},{"p":"LDH","m":"MEAA","g":"RC","v":0.02,"s":""},
{"p":"LDH","m":"Methionine","g":"HC","v":-0.15,"s":"*"},{"p":"LDH","m":"Methionine","g":"RM","v":0.04,"s":""},{"p":"LDH","m":"Methionine","g":"RC","v":0,"s":""},
{"p":"LDH","m":"Indolelactate","g":"HC","v":-0.15,"s":"*"},{"p":"LDH","m":"Indolelactate","g":"RM","v":0,"s":""},{"p":"LDH","m":"Indolelactate","g":"RC","v":0.03,"s":""},
{"p":"LDH","m":"Hypoxanthine","g":"HC","v":0.05,"s":""},{"p":"LDH","m":"Hypoxanthine","g":"RM","v":0,"s":""},{"p":"LDH","m":"Hypoxanthine","g":"RC","v":-0.15,"s":"*"},
{"p":"LDH","m":"GCA","g":"HC","v":-0.08,"s":""},{"p":"LDH","m":"GCA","g":"RM","v":0,"s":""},{"p":"LDH","m":"GCA","g":"RC","v":0.05,"s":""},
{"p":"LDH","m":"Cyclic AMP","g":"HC","v":0.15,"s":"*"},{"p":"LDH","m":"Cyclic AMP","g":"RM","v":0.1,"s":""},{"p":"LDH","m":"Cyclic AMP","g":"RC","v":0.2,"s":"**"},
{"p":"LDH","m":"ACN 8:0","g":"HC","v":-0.15,"s":"*"},{"p":"LDH","m":"ACN 8:0","g":"RM","v":0,"s":""},{"p":"LDH","m":"ACN 8:0","g":"RC","v":-0.04,"s":""},
{"p":"LDH","m":"ACN 5:0","g":"HC","v":-0.15,"s":"*"},{"p":"LDH","m":"ACN 5:0","g":"RM","v":0,"s":""},{"p":"LDH","m":"ACN 5:0","g":"RC","v":0,"s":""},
{"p":"LDH","m":"abscisate","g":"HC","v":0.02,"s":""},{"p":"LDH","m":"abscisate","g":"RM","v":0.12,"s":"*"},{"p":"LDH","m":"abscisate","g":"RC","v":0,"s":""},
{"p":"LDH","m":"3-Phosphoglycerate","g":"HC","v":0.12,"s":"*"},{"p":"LDH","m":"3-Phosphoglycerate","g":"RM","v":0,"s":""},{"p":"LDH","m":"3-Phosphoglycerate","g":"RC","v":0.04,"s":""},

{"p":"APTT","m":"PC 36:3","g":"HC","v":-0.12,"s":""},{"p":"APTT","m":"PC 36:3","g":"RM","v":0,"s":""},{"p":"APTT","m":"PC 36:3","g":"RC","v":0.2,"s":"*"},
{"p":"APTT","m":"Methionine","g":"HC","v":0.22,"s":"*"},{"p":"APTT","m":"Methionine","g":"RM","v":0.04,"s":""},{"p":"APTT","m":"Methionine","g":"RC","v":0,"s":""},
{"p":"APTT","m":"IMP","g":"HC","v":-0.06,"s":""},{"p":"APTT","m":"IMP","g":"RM","v":0,"s":""},{"p":"APTT","m":"IMP","g":"RC","v":-0.15,"s":"*"},
{"p":"APTT","m":"ACN 8:0","g":"HC","v":0.18,"s":"*"},{"p":"APTT","m":"ACN 8:0","g":"RM","v":0,"s":""},{"p":"APTT","m":"ACN 8:0","g":"RC","v":-0.08,"s":""},
{"p":"APTT","m":"ACN 5:0","g":"HC","v":0.18,"s":"*"},{"p":"APTT","m":"ACN 5:0","g":"RM","v":0,"s":""},{"p":"APTT","m":"ACN 5:0","g":"RC","v":0.02,"s":""},

{"p":"FIB","m":"Maleate","g":"HC","v":-0.03,"s":""},{"p":"FIB","m":"Maleate","g":"RM","v":0.2,"s":"*"},{"p":"FIB","m":"Maleate","g":"RC","v":0,"s":""},
{"p":"FIB","m":"ACN 8:0","g":"HC","v":-0.2,"s":"*"},{"p":"FIB","m":"ACN 8:0","g":"RM","v":0,"s":""},{"p":"FIB","m":"ACN 8:0","g":"RC","v":0.04,"s":""},
{"p":"FIB","m":"abscisate","g":"HC","v":0.22,"s":"*"},{"p":"FIB","m":"abscisate","g":"RM","v":-0.04,"s":""},{"p":"FIB","m":"abscisate","g":"RC","v":-0.03,"s":""},

{"p":"PT","m":"PC 34:1","g":"HC","v":0,"s":""},{"p":"PT","m":"PC 34:1","g":"RM","v":0,"s":""},{"p":"PT","m":"PC 34:1","g":"RC","v":0.2,"s":"*"},
{"p":"PT","m":"LPC 18:0","g":"HC","v":-0.03,"s":""},{"p":"PT","m":"LPC 18:0","g":"RM","v":0,"s":""},{"p":"PT","m":"LPC 18:0","g":"RC","v":-0.2,"s":"*"},
{"p":"PT","m":"GCA","g":"HC","v":0.18,"s":"*"},{"p":"PT","m":"GCA","g":"RM","v":0,"s":""},{"p":"PT","m":"GCA","g":"RC","v":0.02,"s":""},
{"p":"PT","m":"5-Amino-methylhexanoate","g":"HC","v":-0.25,"s":"**"},{"p":"PT","m":"5-Amino-methylhexanoate","g":"RM","v":0,"s":""},{"p":"PT","m":"5-Amino-methylhexanoate","g":"RC","v":0.03,"s":""}
]},
"hconcat": [
 {"hconcat": [
  {"vconcat": [
    {"width": 1, "height": 1, "mark": "text", "transform": [{"filter": "false"}], "encoding": {}, "view": {"stroke": null}},
    {"vconcat": [
      {"title": {"text": "A", "anchor": "start", "frame": "group", "font": "Liberation Sans", "fontSize": 18, "fontWeight": "bold", "color": "black", "dx": -31, "dy": 10, "offset": 0},
       "hconcat": [
        {"title": "CRP", "width": 42, "height": 83, "transform": [{"filter": "datum.p==='CRP'"}], "encoding": {"x": {"field": "g", "type": "nominal", "sort": ["HC","RM","RC"], "title": null}, "y": {"field": "m", "type": "nominal", "sort": null, "title": null}}, "layer": [{"mark": "rect", "encoding": {"color": {"field": "v", "type": "quantitative", "title": "R", "scale": {"domain": [-0.6, 0, 0.6], "range": ["#4f3fe6", "#ffffff", "#ec4c36"], "interpolate": "rgb"}}}}, {"mark": {"type": "text", "fontSize": 4, "color": "#333333", "baseline": "middle"}, "encoding": {"text": {"field": "s", "type": "nominal"}}}]},
        {"title": "IL_6", "width": 42, "height": 83, "transform": [{"filter": "datum.p==='IL_6'"}], "encoding": {"x": {"field": "g", "type": "nominal", "sort": ["HC","RM","RC"], "title": null}, "y": {"field": "m", "type": "nominal", "sort": null, "title": null}}, "layer": [{"mark": "rect", "encoding": {"color": {"field": "v", "type": "quantitative", "title": "R", "scale": {"domain": [-0.6, 0, 0.6], "range": ["#4f3fe6", "#ffffff", "#ec4c36"], "interpolate": "rgb"}}}}, {"mark": {"type": "text", "fontSize": 4, "color": "#333333", "baseline": "middle"}, "encoding": {"text": {"field": "s", "type": "nominal"}}}]},
        {"title": "TNF-α", "width": 42, "height": 83, "transform": [{"filter": "datum.p==='TNF'"}], "encoding": {"x": {"field": "g", "type": "nominal", "sort": ["HC","RM","RC"], "title": null}, "y": {"field": "m", "type": "nominal", "sort": null, "title": null}}, "layer": [{"mark": "rect", "encoding": {"color": {"field": "v", "type": "quantitative", "title": "R", "scale": {"domain": [-0.6, 0, 0.6], "range": ["#4f3fe6", "#ffffff", "#ec4c36"], "interpolate": "rgb"}}}}, {"mark": {"type": "text", "fontSize": 4, "color": "#333333", "baseline": "middle"}, "encoding": {"text": {"field": "s", "type": "nominal"}}}]}
       ], "spacing": 37, "bounds": "flush"},
      {"title": {"text": "B", "anchor": "start", "frame": "group", "font": "Liberation Sans", "fontSize": 18, "fontWeight": "bold", "color": "black", "dx": -31, "dy": 9, "offset": 0},
       "hconcat": [
        {"title": "BUN", "width": 42, "height": 86, "transform": [{"filter": "datum.p==='BUN'"}], "encoding": {"x": {"field": "g", "type": "nominal", "sort": ["HC","RM","RC"], "title": null}, "y": {"field": "m", "type": "nominal", "sort": null, "title": null}}, "layer": [{"mark": "rect", "encoding": {"color": {"field": "v", "type": "quantitative", "title": "R", "scale": {"domain": [-0.6, 0, 0.6], "range": ["#4f3fe6", "#ffffff", "#ec4c36"], "interpolate": "rgb"}}}}, {"mark": {"type": "text", "fontSize": 4, "color": "#333333", "baseline": "middle"}, "encoding": {"text": {"field": "s", "type": "nominal"}}}]},
        {"title": "eGFR", "width": 42, "height": 86, "transform": [{"filter": "datum.p==='eGFR'"}], "encoding": {"x": {"field": "g", "type": "nominal", "sort": ["HC","RM","RC"], "title": null}, "y": {"field": "m", "type": "nominal", "sort": null, "title": null}}, "layer": [{"mark": "rect", "encoding": {"color": {"field": "v", "type": "quantitative", "title": "R", "scale": {"domain": [-0.6, 0, 0.6], "range": ["#4f3fe6", "#ffffff", "#ec4c36"], "interpolate": "rgb"}}}}, {"mark": {"type": "text", "fontSize": 4, "color": "#333333", "baseline": "middle"}, "encoding": {"text": {"field": "s", "type": "nominal"}}}]},
        {"title": "UA", "width": 42, "height": 86, "transform": [{"filter": "datum.p==='UA'"}], "encoding": {"x": {"field": "g", "type": "nominal", "sort": ["HC","RM","RC"], "title": null}, "y": {"field": "m", "type": "nominal", "sort": null, "title": null}}, "layer": [{"mark": "rect", "encoding": {"color": {"field": "v", "type": "quantitative", "title": "R", "scale": {"domain": [-0.6, 0, 0.6], "range": ["#4f3fe6", "#ffffff", "#ec4c36"], "interpolate": "rgb"}}}}, {"mark": {"type": "text", "fontSize": 4, "color": "#333333", "baseline": "middle"}, "encoding": {"text": {"field": "s", "type": "nominal"}}}]}
       ], "spacing": 37, "bounds": "flush"}
    ], "spacing": 24.5}
  ], "spacing": 7},
  {"vconcat": [
    {"title": {"text": "C", "anchor": "start", "frame": "group", "font": "Liberation Sans", "fontSize": 18, "fontWeight": "bold", "color": "black", "dx": -75, "dy": 17, "offset": 0},
     "hconcat": [
      {"title": "IPCV%", "width": 42, "height": 78, "transform": [{"filter": "datum.p==='IPCV'"}], "encoding": {"x": {"field": "g", "type": "nominal", "sort": ["HC","RM","RC"], "title": null}, "y": {"field": "m", "type": "nominal", "sort": null, "title": null}}, "layer": [{"mark": "rect", "encoding": {"color": {"field": "v", "type": "quantitative", "title": "R", "scale": {"domain": [-0.6, 0, 0.6], "range": ["#4f3fe6", "#ffffff", "#ec4c36"], "interpolate": "rgb"}}}}, {"mark": {"type": "text", "fontSize": 4, "color": "#333333", "baseline": "middle"}, "encoding": {"text": {"field": "s", "type": "nominal"}}}]},
      {"title": "IPGV%", "width": 42, "height": 78, "transform": [{"filter": "datum.p==='IPGV'"}], "encoding": {"x": {"field": "g", "type": "nominal", "sort": ["HC","RM","RC"], "title": null}, "y": {"field": "m", "type": "nominal", "sort": null, "title": null}}, "layer": [{"mark": "rect", "encoding": {"color": {"field": "v", "type": "quantitative", "title": "R", "scale": {"domain": [-0.6, 0, 0.6], "range": ["#4f3fe6", "#ffffff", "#ec4c36"], "interpolate": "rgb"}}}}, {"mark": {"type": "text", "fontSize": 4, "color": "#333333", "baseline": "middle"}, "encoding": {"text": {"field": "s", "type": "nominal"}}}]},
      {"title": "IPLV%", "width": 42, "height": 78, "transform": [{"filter": "datum.p==='IPLV'"}], "encoding": {"x": {"field": "g", "type": "nominal", "sort": ["HC","RM","RC"], "title": null}, "y": {"field": "m", "type": "nominal", "sort": null, "title": null}}, "layer": [{"mark": "rect", "encoding": {"color": {"field": "v", "type": "quantitative", "title": "R", "scale": {"domain": [-0.6, 0, 0.6], "range": ["#4f3fe6", "#ffffff", "#ec4c36"], "interpolate": "rgb"}}}}, {"mark": {"type": "text", "fontSize": 4, "color": "#333333", "baseline": "middle"}, "encoding": {"text": {"field": "s", "type": "nominal"}}}]}
     ], "spacing": 33, "bounds": "flush"},
    {"hconcat": [
      {"title": "PCV%", "width": 42, "height": 82, "transform": [{"filter": "datum.p==='PCV'"}], "encoding": {"x": {"field": "g", "type": "nominal", "sort": ["HC","RM","RC"], "title": null}, "y": {"field": "m", "type": "nominal", "sort": null, "title": null}}, "layer": [{"mark": "rect", "encoding": {"color": {"field": "v", "type": "quantitative", "title": "R", "scale": {"domain": [-0.6, 0, 0.6], "range": ["#4f3fe6", "#ffffff", "#ec4c36"], "interpolate": "rgb"}}}}, {"mark": {"type": "text", "fontSize": 4, "color": "#333333", "baseline": "middle"}, "encoding": {"text": {"field": "s", "type": "nominal"}}}]},
      {"title": "PGV%", "width": 42, "height": 82, "transform": [{"filter": "datum.p==='PGV'"}], "encoding": {"x": {"field": "g", "type": "nominal", "sort": ["HC","RM","RC"], "title": null}, "y": {"field": "m", "type": "nominal", "sort": null, "title": null}}, "layer": [{"mark": "rect", "encoding": {"color": {"field": "v", "type": "quantitative", "title": "R", "scale": {"domain": [-0.6, 0, 0.6], "range": ["#4f3fe6", "#ffffff", "#ec4c36"], "interpolate": "rgb"}}}}, {"mark": {"type": "text", "fontSize": 4, "color": "#333333", "baseline": "middle"}, "encoding": {"text": {"field": "s", "type": "nominal"}}}]},
      {"title": "PLV%", "width": 42, "height": 82, "transform": [{"filter": "datum.p==='PLV'"}], "encoding": {"x": {"field": "g", "type": "nominal", "sort": ["HC","RM","RC"], "title": null}, "y": {"field": "m", "type": "nominal", "sort": null, "title": null}}, "layer": [{"mark": "rect", "encoding": {"color": {"field": "v", "type": "quantitative", "title": "R", "scale": {"domain": [-0.6, 0, 0.6], "range": ["#4f3fe6", "#ffffff", "#ec4c36"], "interpolate": "rgb"}}}}, {"mark": {"type": "text", "fontSize": 4, "color": "#333333", "baseline": "middle"}, "encoding": {"text": {"field": "s", "type": "nominal"}}}]}
     ], "spacing": 33, "bounds": "flush"},
    {"hconcat": [
      {"title": "rPCV%", "width": 42, "height": 82, "transform": [{"filter": "datum.p==='rPCV'"}], "encoding": {"x": {"field": "g", "type": "nominal", "sort": ["HC","RM","RC"], "title": null}, "y": {"field": "m", "type": "nominal", "sort": null, "title": null}}, "layer": [{"mark": "rect", "encoding": {"color": {"field": "v", "type": "quantitative", "title": "R", "scale": {"domain": [-0.6, 0, 0.6], "range": ["#4f3fe6", "#ffffff", "#ec4c36"], "interpolate": "rgb"}}}}, {"mark": {"type": "text", "fontSize": 4, "color": "#333333", "baseline": "middle"}, "encoding": {"text": {"field": "s", "type": "nominal"}}}]},
      {"title": "rPGV%", "width": 42, "height": 82, "transform": [{"filter": "datum.p==='rPGV'"}], "encoding": {"x": {"field": "g", "type": "nominal", "sort": ["HC","RM","RC"], "title": null}, "y": {"field": "m", "type": "nominal", "sort": null, "title": null}}, "layer": [{"mark": "rect", "encoding": {"color": {"field": "v", "type": "quantitative", "title": "R", "scale": {"domain": [-0.6, 0, 0.6], "range": ["#4f3fe6", "#ffffff", "#ec4c36"], "interpolate": "rgb"}}}}, {"mark": {"type": "text", "fontSize": 4, "color": "#333333", "baseline": "middle"}, "encoding": {"text": {"field": "s", "type": "nominal"}}}]},
      {"title": "rPLV%", "width": 42, "height": 82, "transform": [{"filter": "datum.p==='rPLV'"}], "encoding": {"x": {"field": "g", "type": "nominal", "sort": ["HC","RM","RC"], "title": null}, "y": {"field": "m", "type": "nominal", "sort": null, "title": null}}, "layer": [{"mark": "rect", "encoding": {"color": {"field": "v", "type": "quantitative", "title": "R", "scale": {"domain": [-0.6, 0, 0.6], "range": ["#4f3fe6", "#ffffff", "#ec4c36"], "interpolate": "rgb"}}}}, {"mark": {"type": "text", "fontSize": 4, "color": "#333333", "baseline": "middle"}, "encoding": {"text": {"field": "s", "type": "nominal"}}}]}
     ], "spacing": 33, "bounds": "flush"}
  ], "spacing": 2}
 ], "spacing": -38.5},
 {"vconcat": [
  {"vconcat": [
    {"title": {"text": "D", "anchor": "start", "frame": "group", "font": "Liberation Sans", "fontSize": 18, "fontWeight": "bold", "color": "black", "dx": -37, "dy": 19, "offset": 0},
     "hconcat": [
      {"title": "CK", "width": 43, "height": 83, "transform": [{"filter": "datum.p==='CK'"}], "encoding": {"x": {"field": "g", "type": "nominal", "sort": ["HC","RM","RC"], "title": null}, "y": {"field": "m", "type": "nominal", "sort": null, "title": null}}, "layer": [{"mark": "rect", "encoding": {"color": {"field": "v", "type": "quantitative", "title": "R", "scale": {"domain": [-0.6, 0, 0.6], "range": ["#4f3fe6", "#ffffff", "#ec4c36"], "interpolate": "rgb"}}}}, {"mark": {"type": "text", "fontSize": 4, "color": "#333333", "baseline": "middle"}, "encoding": {"text": {"field": "s", "type": "nominal"}}}]},
      {"title": "CKMB", "width": 43, "height": 83, "transform": [{"filter": "datum.p==='CKMB'"}], "encoding": {"x": {"field": "g", "type": "nominal", "sort": ["HC","RM","RC"], "title": null}, "y": {"field": "m", "type": "nominal", "sort": null, "title": null}}, "layer": [{"mark": "rect", "encoding": {"color": {"field": "v", "type": "quantitative", "title": "R", "scale": {"domain": [-0.6, 0, 0.6], "range": ["#4f3fe6", "#ffffff", "#ec4c36"], "interpolate": "rgb"}}}}, {"mark": {"type": "text", "fontSize": 4, "color": "#333333", "baseline": "middle"}, "encoding": {"text": {"field": "s", "type": "nominal"}}}]},
      {"title": "α-HBDH", "width": 43, "height": 83, "transform": [{"filter": "datum.p==='HBDH'"}], "encoding": {"x": {"field": "g", "type": "nominal", "sort": ["HC","RM","RC"], "title": null}, "y": {"field": "m", "type": "nominal", "sort": null, "title": null}}, "layer": [{"mark": "rect", "encoding": {"color": {"field": "v", "type": "quantitative", "title": "R", "scale": {"domain": [-0.6, 0, 0.6], "range": ["#4f3fe6", "#ffffff", "#ec4c36"], "interpolate": "rgb"}}}}, {"mark": {"type": "text", "fontSize": 4, "color": "#333333", "baseline": "middle"}, "encoding": {"text": {"field": "s", "type": "nominal"}}}]}
     ], "spacing": 45, "bounds": "flush"},
    {"title": {"text": "E", "anchor": "start", "frame": "group", "font": "Liberation Sans", "fontSize": 18, "fontWeight": "bold", "color": "black", "dx": -37, "dy": 17, "offset": 0},
     "hconcat": [
      {"title": "ALT", "width": 43, "height": 83, "transform": [{"filter": "datum.p==='ALT'"}], "encoding": {"x": {"field": "g", "type": "nominal", "sort": ["HC","RM","RC"], "title": null}, "y": {"field": "m", "type": "nominal", "sort": null, "title": null}}, "layer": [{"mark": "rect", "encoding": {"color": {"field": "v", "type": "quantitative", "title": "R", "scale": {"domain": [-0.6, 0, 0.6], "range": ["#4f3fe6", "#ffffff", "#ec4c36"], "interpolate": "rgb"}}}}, {"mark": {"type": "text", "fontSize": 4, "color": "#333333", "baseline": "middle"}, "encoding": {"text": {"field": "s", "type": "nominal"}}}]},
      {"title": "AST", "width": 43, "height": 83, "transform": [{"filter": "datum.p==='AST'"}], "encoding": {"x": {"field": "g", "type": "nominal", "sort": ["HC","RM","RC"], "title": null}, "y": {"field": "m", "type": "nominal", "sort": null, "title": null}}, "layer": [{"mark": "rect", "encoding": {"color": {"field": "v", "type": "quantitative", "title": "R", "scale": {"domain": [-0.6, 0, 0.6], "range": ["#4f3fe6", "#ffffff", "#ec4c36"], "interpolate": "rgb"}}}}, {"mark": {"type": "text", "fontSize": 4, "color": "#333333", "baseline": "middle"}, "encoding": {"text": {"field": "s", "type": "nominal"}}}]},
      {"title": "LDH", "width": 43, "height": 83, "transform": [{"filter": "datum.p==='LDH'"}], "encoding": {"x": {"field": "g", "type": "nominal", "sort": ["HC","RM","RC"], "title": null}, "y": {"field": "m", "type": "nominal", "sort": null, "title": null}}, "layer": [{"mark": "rect", "encoding": {"color": {"field": "v", "type": "quantitative", "title": "R", "scale": {"domain": [-0.6, 0, 0.6], "range": ["#4f3fe6", "#ffffff", "#ec4c36"], "interpolate": "rgb"}}}}, {"mark": {"type": "text", "fontSize": 4, "color": "#333333", "baseline": "middle"}, "encoding": {"text": {"field": "s", "type": "nominal"}}}]}
     ], "spacing": 45, "bounds": "flush"}
  ], "spacing": 0},
  {"title": {"text": "F", "anchor": "start", "frame": "group", "font": "Liberation Sans", "fontSize": 18, "fontWeight": "bold", "color": "black", "dx": -37, "dy": 11, "offset": 0},
   "hconcat": [
    {"title": "APTT", "width": 43, "height": 80, "transform": [{"filter": "datum.p==='APTT'"}], "encoding": {"x": {"field": "g", "type": "nominal", "sort": ["HC","RM","RC"], "title": null}, "y": {"field": "m", "type": "nominal", "sort": null, "title": null}}, "layer": [{"mark": "rect", "encoding": {"color": {"field": "v", "type": "quantitative", "title": "R", "scale": {"domain": [-0.6, 0, 0.6], "range": ["#4f3fe6", "#ffffff", "#ec4c36"], "interpolate": "rgb"}}}}, {"mark": {"type": "text", "fontSize": 4, "color": "#333333", "baseline": "middle"}, "encoding": {"text": {"field": "s", "type": "nominal"}}}]},
    {"title": "FIB", "width": 43, "height": 80, "transform": [{"filter": "datum.p==='FIB'"}], "encoding": {"x": {"field": "g", "type": "nominal", "sort": ["HC","RM","RC"], "title": null}, "y": {"field": "m", "type": "nominal", "sort": null, "title": null}}, "layer": [{"mark": "rect", "encoding": {"color": {"field": "v", "type": "quantitative", "title": "R", "scale": {"domain": [-0.6, 0, 0.6], "range": ["#4f3fe6", "#ffffff", "#ec4c36"], "interpolate": "rgb"}}}}, {"mark": {"type": "text", "fontSize": 4, "color": "#333333", "baseline": "middle"}, "encoding": {"text": {"field": "s", "type": "nominal"}}}]},
    {"title": "PT", "width": 43, "height": 80, "transform": [{"filter": "datum.p==='PT'"}], "encoding": {"x": {"field": "g", "type": "nominal", "sort": ["HC","RM","RC"], "title": null}, "y": {"field": "m", "type": "nominal", "sort": null, "title": null}}, "layer": [{"mark": "rect", "encoding": {"color": {"field": "v", "type": "quantitative", "title": "R", "scale": {"domain": [-0.6, 0, 0.6], "range": ["#4f3fe6", "#ffffff", "#ec4c36"], "interpolate": "rgb"}}}}, {"mark": {"type": "text", "fontSize": 4, "color": "#333333", "baseline": "middle"}, "encoding": {"text": {"field": "s", "type": "nominal"}}}]}
   ], "spacing": 45, "bounds": "flush"}
 ], "spacing": -5}
],
"spacing": 19.5
}
